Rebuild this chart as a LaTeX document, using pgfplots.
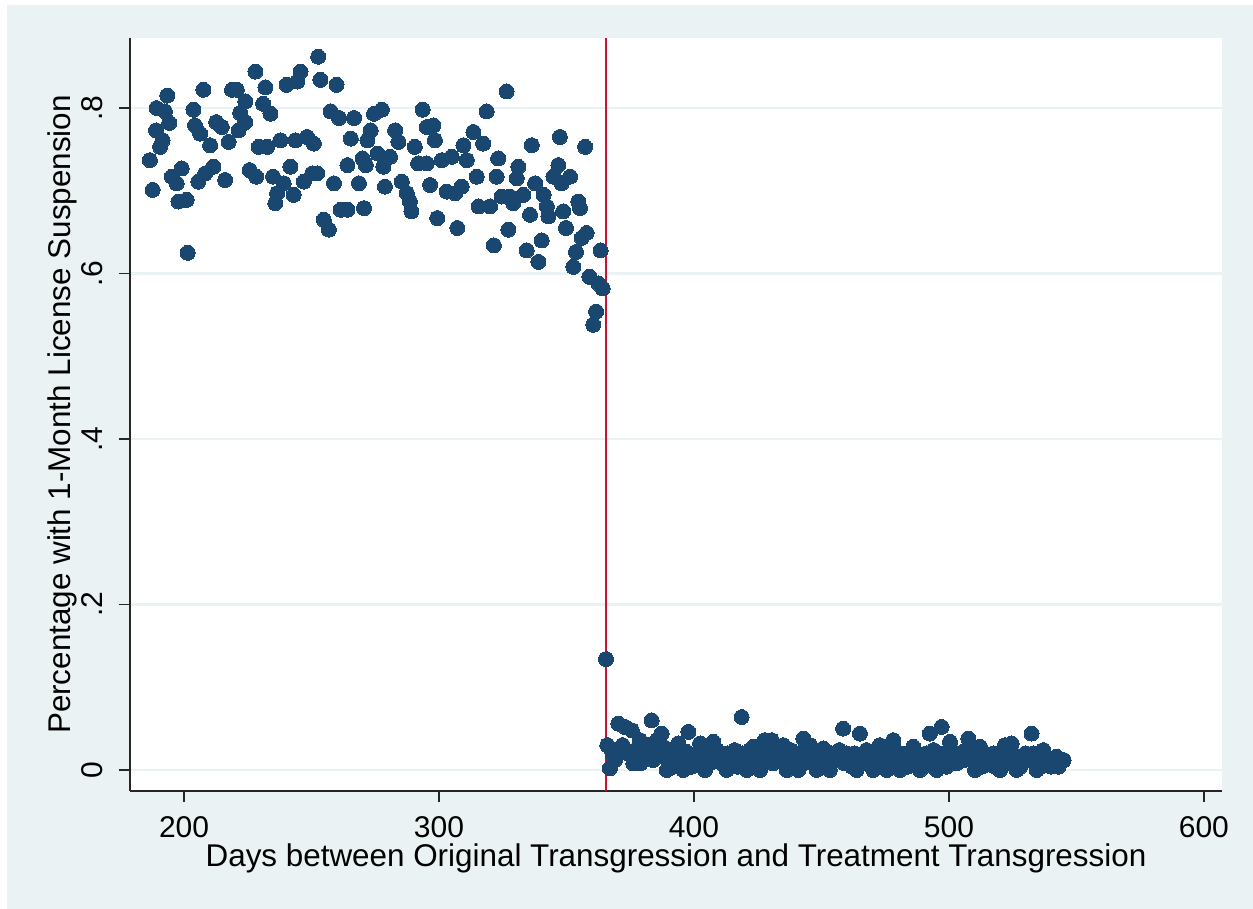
\documentclass[border=0pt]{standalone}
\usepackage{fontspec}
\setmainfont{Liberation Sans}
\usepackage{pgfplots}
\pgfplotsset{compat=1.18}
\definecolor{bgc}{RGB}{234,242,243}
\definecolor{stnavy}{RGB}{26,71,111}
\definecolor{redl}{RGB}{200,18,54}
\begin{document}
\begin{tikzpicture}
\useasboundingbox (-65pt,-59pt) rectangle (561.5pt,395.5pt);
\fill[white] (-65pt,-59pt) rectangle (561.5pt,395.5pt);
\fill[bgc] (-61.5pt,-59pt) rectangle (561.5pt,393pt);
\begin{axis}[
  at={(0,0)}, anchor=south west,
  scale only axis, width=546pt, height=376.5pt,
  xmin=178.8, xmax=607.1, ymin=-0.0254, ymax=0.8846,
  axis background/.style={fill=white},
  axis x line*=bottom, axis y line*=left,
  axis line style={line width=0.6pt, color=black!85},
  xtick={200,300,400,500,600},
  ytick={0,0.2,0.4,0.6,0.8},
  yticklabels={0,.2,.4,.6,.8},
  tick align=outside, major tick length=5.5pt,
  tick style={line width=0.6pt, color=black!85},
  ymajorgrids, grid style={bgc, line width=1.3pt},
  /pgf/number format/assume math mode=true,
  ticklabel style={font=\fontsize{15}{18}\selectfont},
  yticklabel style={rotate=90, anchor=base},
  yticklabel shift=8pt,
  xticklabel style={anchor=base},
  xticklabel shift=18pt,
  xlabel={Days between Original Transgression and Treatment Transgression},
  ylabel={Percentage with 1-Month License Suspension},
  every axis x label/.style={at={(axis description cs:0.5,-0.1009)}, anchor=base, font=\fontsize{15.7}{18}\selectfont},
  every axis y label/.style={at={(axis description cs:-0.0549,0.5)}, anchor=base, rotate=90, font=\fontsize{15.7}{18}\selectfont},
  clip=true,
]
\addplot[redl, line width=1.3pt] coordinates {(365.5,-0.05) (365.5,0.95)};
\addplot[only marks, mark=*, mark size=3.75pt, stnavy, mark options={fill=stnavy, draw=stnavy, line width=0pt}] coordinates {
(186.6,0.737) (187.7,0.701) (189,0.773) (189.2,0.80) (190.6,0.753) (191.6,0.761) (192.5,0.796) (193.4,0.815)
(194.2,0.782) (195.2,0.717) (197.1,0.709) (197.8,0.687) (199.1,0.727) (201.0,0.689) (201.4,0.625) (203.7,0.798)
(204.3,0.779) (205.6,0.711) (206.3,0.769) (207.6,0.822) (208.3,0.721) (210.2,0.755) (211.5,0.729) (212.6,0.783)
(214.8,0.777) (216.1,0.713) (217.5,0.759) (218.8,0.822) (220.7,0.822) (221.4,0.773) (222,0.794) (224,0.808)
(224,0.783) (225.7,0.725) (228,0.844) (228.3,0.717) (229.3,0.753) (231,0.805) (231.9,0.825) (232.6,0.753)
(233.9,0.793) (234.9,0.717) (235.8,0.685) (236.5,0.697) (237.8,0.761) (239.1,0.709) (240.2,0.828) (241.7,0.729)
(243,0.695) (244.4,0.832) (245.7,0.844) (243.7,0.761) (247,0.711) (248.3,0.765) (250.3,0.721) (252.2,0.721)
(250.9,0.757) (252.6,0.862) (253.5,0.834) (254.8,0.665) (256.8,0.653) (257.5,0.796) (258.8,0.709) (259.8,0.828)
(260.8,0.788) (261.4,0.677) (264.1,0.677) (264.1,0.731) (265.4,0.763) (266.7,0.788) (268.6,0.709) (270,0.739)
(270.6,0.679) (271.3,0.731) (271.9,0.761) (273.2,0.773) (274.5,0.793) (275.9,0.745) (277.6,0.798) (278.8,0.705)
(278.2,0.729) (280.8,0.741) (282.8,0.773) (284.1,0.759) (285.4,0.711) (287.4,0.697) (288.6,0.687) (289.2,0.675)
(290.5,0.753) (291.8,0.733) (293.6,0.798) (295.2,0.777) (296.5,0.707) (295.2,0.733) (297.8,0.779) (298.4,0.761)
(299.3,0.667) (301.1,0.737) (303,0.699) (305,0.741) (306.3,0.697) (307.2,0.655) (308.9,0.705) (309.6,0.755)
(310.9,0.737) (313.5,0.771) (314.8,0.717) (315.5,0.681) (317.3,0.757) (318.7,0.796) (320,0.681) (321.5,0.634)
(322.6,0.717) (323.2,0.739) (324.6,0.693) (326.5,0.820) (327.2,0.653) (327.8,0.693) (329.1,0.685) (330.5,0.715)
(331.1,0.729) (333.1,0.695) (334.4,0.628) (335.7,0.671) (336.4,0.755) (337.7,0.709) (339,0.614) (340.3,0.640)
(341,0.695) (342.3,0.681) (342.9,0.669) (344.9,0.717) (346.8,0.731) (347.4,0.765) (348.1,0.709) (348.7,0.675)
(349.8,0.655) (351.4,0.717) (352.7,0.608) (353.7,0.626) (354.6,0.687) (355.3,0.679) (356,0.643) (357.3,0.753)
(357.9,0.649) (359,0.596) (360.5,0.538) (361.6,0.554) (362.5,0.588) (363.4,0.628) (364.2,0.582)
(365.5,0.134) (366,0.030) (367,0.002) (370.3,0.056) (373,0.052) (375.6,0.048) (376.2,0.008) (378.8,0.036)
(380,0.024) (383.4,0.060) (385.4,0.036) (387.3,0.044) (389.3,0.0) (391.9,0.02) (393.8,0.032) (395.8,0)
(397.8,0.046) (399.7,0.016) (402.4,0.032) (404.3,0) (407.6,0.034) (410.2,0.016) (412.8,0) (415.4,0.016)
(418.7,0.064) (420.7,0) (423.3,0.028) (425.9,0) (427.8,0.036) (430.5,0.036) (432.4,0.016) (435,0.030)
(436.4,0) (439,0.016) (440.9,0) (442.9,0.038) (445.5,0.030) (448.1,0) (450.7,0.026) (453.3,0)
(456,0.016) (458.5,0.05) (461.2,0.016) (463.8,0) (465.1,0.044) (467.7,0.024) (470.3,0) (472.9,0.030)
(475.6,0.016) (478.2,0.036) (480.8,0) (475.6,0) (478.2,0.028) (483.4,0.02) (486,0.028) (488.6,0)
(492.5,0.044) (497.1,0.052) (495.2,0) (500.4,0.034) (503,0.008) (505.6,0.022) (507.6,0.038) (510.2,0)
(512.2,0.028) (514.8,0.008) (517.4,0.02) (520,0) (522,0.030) (524.6,0.032) (526.5,0) (529.1,0.016)
(532.4,0.044) (534.4,0) (537,0.024) (539.6,0.008) (542.2,0.016) (544.2,0.012)
(368,0.02) (369,0.012) (372,0.03) (374,0.02) (377,0.024) (379,0.008) (381,0.016) (382,0.03) (384,0.012)
(386,0.02) (388,0.028) (390,0.012) (392,0.004) (393,0.024) (395,0.012) (397,0.022) (399,0.004) (401,0.02)
(403,0.012) (405,0.024) (406,0.008) (408,0.016) (409,0.024) (411,0.008) (413,0.02) (414,0.012) (416,0.024)
(417,0.004) (419,0.02) (421,0.012) (422,0.024) (424,0.012) (426,0.02) (427,0.008) (429,0.02) (431,0.008)
(433,0.028) (434,0.012) (436,0.02) (438,0.024) (440,0.012) (441,0.02) (443,0.008) (444,0.024) (446,0.012)
(447,0.02) (449,0.008) (451,0.016) (452,0.004) (454,0.02) (455,0.012) (457,0.024) (459,0.008) (460,0.02)
(462,0.004) (463,0.02) (466,0.016) (468,0.008) (469,0.02) (471,0.012) (472,0.024) (474,0.004) (476,0.024)
(477,0.008) (479,0.012) (481,0.02) (482,0.008) (484,0.004) (485,0.012) (487,0.008) (489,0.016) (490,0.004)
(491,0.02) (493,0.012) (494,0.024) (496,0.012) (498,0.02) (499,0.004) (501,0.024) (502,0.012) (504,0.02)
(506,0.012) (507,0.024) (509,0.012) (511,0.02) (513,0.004) (514,0.02) (516,0.012) (518,0.004) (519,0.016)
(521,0.012) (523,0.008) (525,0.02) (526,0.012) (528,0.004) (530,0.02) (531,0.012) (533,0.02) (535,0.012)
(536,0.004) (538,0.016) (540,0.004) (541,0.012) (543,0.004) (545,0.012)
};
\end{axis}
\end{tikzpicture}
\end{document}
